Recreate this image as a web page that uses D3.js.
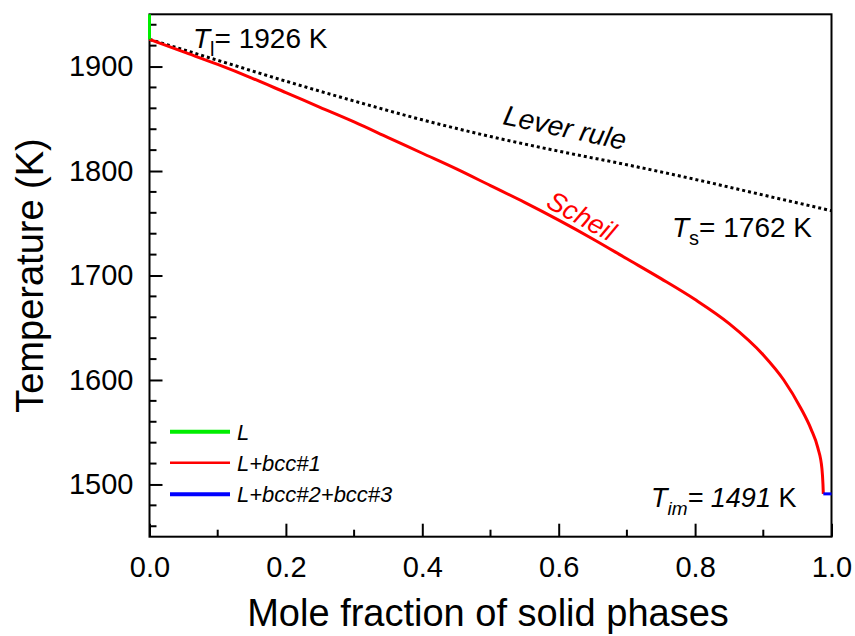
<!DOCTYPE html>
<html>
<head>
<meta charset="utf-8">
<script src="https://cdn.jsdelivr.net/npm/d3@7"></script>
<style>
  body { margin: 0; background: #fff; }
  svg { display: block; }
  text { font-family: "Liberation Sans", Arial, sans-serif; }
</style>
</head>
<body>
<div id="chart"></div>
<script>
// ---------- data ----------
const scheilFrac = [0, 0.05, 0.1, 0.15, 0.2, 0.25, 0.3, 0.35, 0.4, 0.45, 0.5, 0.55, 0.6, 0.65, 0.7, 0.75, 0.8, 0.85, 0.9, 0.93, 0.955, 0.97, 0.98, 0.986, 0.9875, 0.988];
const scheilTemp = [1926, 1914, 1902, 1889, 1875, 1861, 1847, 1832, 1817, 1802, 1786, 1770, 1753, 1735, 1716, 1697, 1677, 1654, 1624, 1600, 1573, 1553, 1535, 1515, 1500, 1491];
const leverFrac = [0, 0.1, 0.2, 0.3, 0.4, 0.5, 0.6, 0.7, 0.8, 0.9, 1.0];
const leverTemp = [1926, 1906, 1886, 1867, 1849, 1833, 1819, 1806, 1792, 1777, 1762];
const liquidFrac = [0, 0];
const liquidTemp = [1926, 1950];
const threePhaseFrac = [0.988, 1.0];
const threePhaseTemp = [1491, 1491];
const xTicks = [0, 0.2, 0.4, 0.6, 0.8, 1.0];
const yTicks = [1500, 1600, 1700, 1800, 1900];
const legendLabels = ["L", "L+bcc#1", "L+bcc#2+bcc#3"];
const legendColors = ["#00ee00", "#ff0000", "#0000ff"];

// ---------- layout ----------
const W = 855, H = 636;
const x0 = 149.5, x1 = 831.5, y0 = 536.7, y1 = 14.3;

const svg = d3.select("#chart").append("svg").attr("width", W).attr("height", H);

const x = d3.scaleLinear().domain([0, 1]).range([x0, x1]);
const y = d3.scaleLinear().domain([1450, 1950]).range([y0, y1]);

// frame
svg.append("rect").attr("x", x0).attr("y", y1).attr("width", x1 - x0).attr("height", y0 - y1)
  .attr("fill", "none").attr("stroke", "#000").attr("stroke-width", 2);

// x axis (ticks inside)
const xAxis = d3.axisBottom(x).tickValues(xTicks).tickFormat(d3.format(".1f")).tickSizeInner(-13).tickSizeOuter(0).tickPadding(0);
const gx = svg.append("g").attr("transform", `translate(0,${y0})`).call(xAxis);
gx.select(".domain").remove();
gx.selectAll(".tick line").attr("stroke-width", 2);
gx.selectAll(".tick text").attr("font-size", 29).attr("dy", 0).attr("y", 40).attr("fill", "#000");
const xMinor = d3.range(0.1, 1.0, 0.2);
svg.append("g").selectAll("line").data(xMinor).join("line")
  .attr("x1", d => x(d)).attr("x2", d => x(d)).attr("y1", y0).attr("y2", y0 - 7)
  .attr("stroke", "#000").attr("stroke-width", 2);

// y axis
const yAxis = d3.axisLeft(y).tickValues(yTicks).tickFormat(d3.format("d")).tickSizeInner(-13).tickSizeOuter(0).tickPadding(15);
const gy = svg.append("g").attr("transform", `translate(${x0},0)`).call(yAxis);
gy.select(".domain").remove();
gy.selectAll(".tick line").attr("stroke-width", 2);
gy.selectAll(".tick text").attr("font-size", 29).attr("fill", "#000").attr("x", -16);
const yMinor = d3.range(1460, 1950, 20).filter(v => v % 100 !== 0);
svg.append("g").selectAll("line").data(yMinor).join("line")
  .attr("x1", x0).attr("x2", x0 + 7).attr("y1", d => y(d)).attr("y2", d => y(d))
  .attr("stroke", "#000").attr("stroke-width", 2);

// axis titles
svg.append("text").attr("x", 488).attr("y", 626).attr("text-anchor", "middle")
  .attr("font-size", 38).text("Mole fraction of solid phases");
svg.append("text").attr("transform", `translate(43,${(y0 + y1) / 2}) rotate(-90)`)
  .attr("text-anchor", "middle").attr("font-size", 38).text("Temperature (K)");

// curves
const line = d3.line().x(d => x(d[0])).y(d => y(d[1]));
const leverPts = leverFrac.map((f, i) => [f, leverTemp[i]]);
const scheilPts = scheilFrac.map((f, i) => [f, scheilTemp[i]]);

svg.append("path").datum(leverPts).attr("d", line.curve(d3.curveMonotoneX))
  .attr("fill", "none").attr("stroke", "#000").attr("stroke-width", 3).attr("stroke-dasharray", "3,3");
svg.append("path").datum(scheilPts).attr("d", line.curve(d3.curveMonotoneX))
  .attr("fill", "none").attr("stroke", legendColors[1]).attr("stroke-width", 3);
svg.append("path").datum(liquidFrac.map((f, i) => [f, liquidTemp[i]])).attr("d", d3.line().x(d => x(d[0])).y(d => y(d[1])))
  .attr("fill", "none").attr("stroke", legendColors[0]).attr("stroke-width", 3);
svg.append("path").datum(threePhaseFrac.map((f, i) => [f, threePhaseTemp[i]])).attr("d", d3.line().x(d => x(d[0])).y(d => y(d[1])))
  .attr("fill", "none").attr("stroke", legendColors[2]).attr("stroke-width", 3);

// legend
const legY = [431.7, 462.7, 494.3];
const legW = [4, 2.5, 4];
legendLabels.forEach((lab, i) => {
  svg.append("line").attr("x1", 170).attr("x2", 230).attr("y1", legY[i]).attr("y2", legY[i])
    .attr("stroke", legendColors[i]).attr("stroke-width", legW[i]);
  svg.append("text").attr("x", 237).attr("y", legY[i] + 8).attr("font-size", 22)
    .attr("font-style", "italic").text(lab);
});

// annotations
const tl = svg.append("text").attr("x", 193).attr("y", 48).attr("font-size", 28);
tl.append("tspan").attr("font-style", "italic").text("T");
tl.append("tspan").attr("font-size", 20).attr("dy", 8).text("l");
tl.append("tspan").attr("dy", -8).text("= 1926 K");

const ts = svg.append("text").attr("x", 672).attr("y", 237).attr("font-size", 28);
ts.append("tspan").attr("font-style", "italic").text("T");
ts.append("tspan").attr("font-size", 20).attr("dy", 8).text("s");
ts.append("tspan").attr("dy", -8).text("= 1762 K");

const tim = svg.append("text").attr("x", 651).attr("y", 507).attr("font-size", 27);
tim.append("tspan").attr("font-style", "italic").text("T");
tim.append("tspan").attr("font-size", 19).attr("font-style", "italic").attr("dy", 8).text("im");
tim.append("tspan").attr("dy", -8).attr("font-style", "italic").text("= 1491");
tim.append("tspan").text(" K");

svg.append("text").attr("transform", "translate(563,137) rotate(12)").attr("text-anchor", "middle")
  .attr("font-size", 28).attr("font-style", "italic").text("Lever rule");
svg.append("text").attr("transform", "translate(577,224) rotate(29)").attr("text-anchor", "middle")
  .attr("font-size", 27).attr("font-style", "italic").attr("fill", "#ff0000").text("Scheil");
</script>
</body>
</html>
